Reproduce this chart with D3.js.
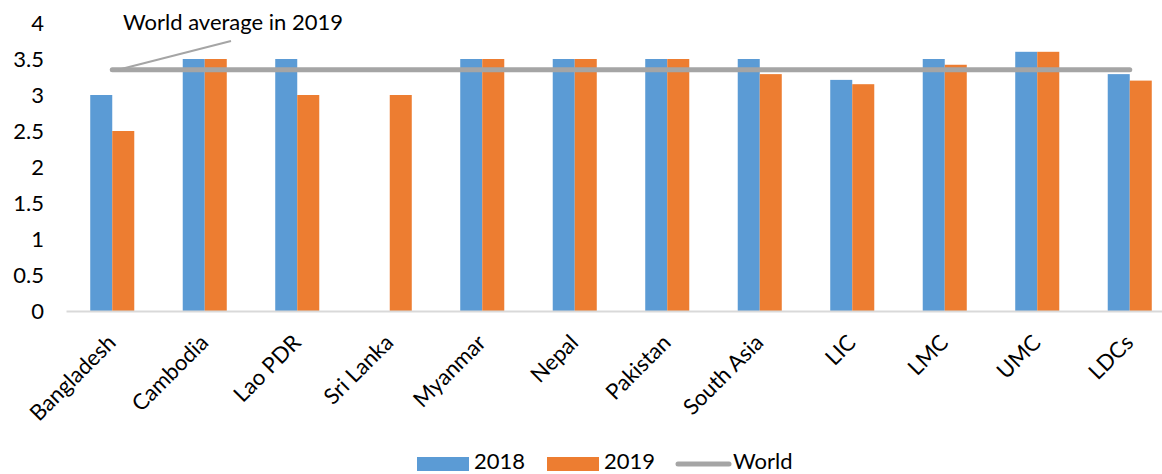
<!DOCTYPE html>
<html><head><meta charset="utf-8">
<script src="https://cdn.jsdelivr.net/npm/d3@7"></script>
<style>body{margin:0;background:#fff}svg{display:block}text{font-family:Lato,"Open Sans",sans-serif;fill:#000}</style>
</head><body><svg id="c" width="1162" height="474"></svg>
<script>
const categories = ["Bangladesh","Cambodia","Lao PDR","Sri Lanka","Myanmar","Nepal","Pakistan","South Asia","LIC","LMC","UMC","LDCs"];
const values2018 = [3.0,3.5,3.5,null,3.5,3.5,3.5,3.5,3.21,3.5,3.6,3.29];
const values2019 = [2.5,3.5,3.0,3.0,3.5,3.5,3.5,3.29,3.15,3.42,3.6,3.2];
const worldAvg = 3.35;
const yTicks = [0,0.5,1,1.5,2,2.5,3,3.5,4];
const seriesNames = ["2018","2019","World"];
const annotation = "World average in 2019";

const svg = d3.select("#c");
const fs = 22;
const x = d3.scaleBand().domain(categories).range([66,1176]).paddingInner(0.524).paddingOuter(0.262);
const x1 = d3.scaleBand().domain(["2018","2019"]).range([0,x.bandwidth()]);
const y = d3.scaleLinear().domain([0,4]).range([311,23]);
const colors = {"2018":"#5B9BD5","2019":"#ED7D31","World":"#A5A5A5"};

// y axis labels
const yAxis = d3.axisLeft(y).tickValues(yTicks).tickSize(0).tickPadding(0).tickFormat(d3.format("~g"));
const ya = svg.append("g").attr("transform","translate(44,0)").call(yAxis);
ya.select(".domain").remove();
ya.selectAll("text").attr("font-size",fs).attr("font-family","Lato").attr("fill","#000");

// bars
const data = categories.map((c,i)=>({c, v:[{k:"2018",v:values2018[i]},{k:"2019",v:values2019[i]}]}));
const g = svg.append("g").selectAll("g").data(data).join("g").attr("transform",d=>`translate(${x(d.c)},0)`);
g.selectAll("rect").data(d=>d.v.filter(e=>e.v!=null)).join("rect")
  .attr("x",d=>x1(d.k)).attr("width",x1.bandwidth())
  .attr("y",d=>y(d.v)).attr("height",d=>y(0)-y(d.v)).attr("fill",d=>colors[d.k]);

// x axis
const xAxis = d3.axisBottom(x).tickSize(0).tickPadding(0);
const xa = svg.append("g").attr("transform",`translate(0,${y(0)})`).call(xAxis);
xa.select(".domain").attr("stroke","#D9D9D9").attr("stroke-width",2);
xa.selectAll("text").attr("font-size",fs).attr("font-family","Lato").attr("fill","#000")
  .attr("text-anchor","end").attr("dy",0)
  .attr("transform","translate(5,33) rotate(-45)");

// world line
const first = categories[0], last = categories[categories.length-1];
const lx0 = x(first)+x.bandwidth()/2, lx1 = x(last)+x.bandwidth()/2;
svg.append("line").attr("x1",lx0).attr("x2",lx1).attr("y1",y(worldAvg)).attr("y2",y(worldAvg))
  .attr("stroke",colors.World).attr("stroke-width",5).attr("stroke-linecap","round");

// annotation
svg.append("line").attr("x1",lx0+6).attr("y1",y(worldAvg)).attr("x2",231).attr("y2",41)
  .attr("stroke","#A5A5A5").attr("stroke-width",2);
svg.append("text").attr("x",123).attr("y",30).attr("font-size",fs).text(annotation);

// legend
const leg = svg.append("g");
const items = [{k:"2018",x:417,type:"rect"},{k:"2019",x:547,type:"rect"},{k:"World",x:676,type:"line"}];
items.forEach(it=>{
  if(it.type==="rect") leg.append("rect").attr("x",it.x).attr("y",457).attr("width",52).attr("height",14).attr("fill",colors[it.k]);
  else leg.append("line").attr("x1",it.x+2).attr("x2",it.x+53).attr("y1",464).attr("y2",464).attr("stroke",colors.World).attr("stroke-width",5).attr("stroke-linecap","round");
  leg.append("text").attr("x",it.x+57).attr("y",469).attr("font-size",fs).text(it.k);
});
</script></body></html>
